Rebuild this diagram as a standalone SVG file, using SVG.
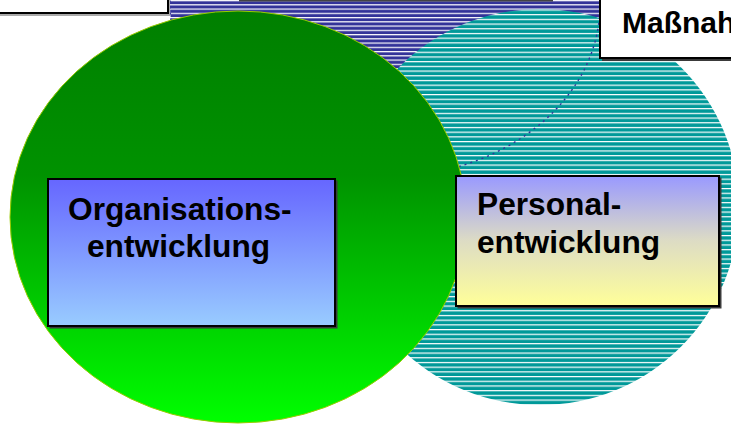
<svg xmlns="http://www.w3.org/2000/svg" width="731" height="424" viewBox="0 0 731 424">
  <style>
    .lbl { font-family: "Liberation Sans", Arial, sans-serif; font-weight: bold; fill: #000; }
    .box { stroke: #000; stroke-width: 2; }
    .shadow { fill: #3a3a3a; }
  </style>
  <defs>
    <pattern id="hatchNavy" patternUnits="userSpaceOnUse" width="20" height="4.25">
      <rect width="20" height="4.25" fill="#333399"/>
      <rect y="0" width="20" height="1.2" fill="#ffffff"/>
    </pattern>
    <pattern id="hatchTeal" patternUnits="userSpaceOnUse" width="20" height="4.7">
      <rect width="20" height="4.7" fill="#009999"/>
      <rect y="0" width="20" height="1.2" fill="#ffffff"/>
    </pattern>
    <linearGradient id="gGreen" x1="0" y1="0" x2="0" y2="1">
      <stop offset="0" stop-color="#007f00"/>
      <stop offset="0.4" stop-color="#009200"/>
      <stop offset="1" stop-color="#00ff00"/>
    </linearGradient>
    <linearGradient id="gOrg" x1="0" y1="0" x2="0" y2="1">
      <stop offset="0" stop-color="#6666ff"/>
      <stop offset="1" stop-color="#99ccff"/>
    </linearGradient>
    <linearGradient id="gPers" x1="0" y1="0" x2="0" y2="1">
      <stop offset="0" stop-color="#9999ff"/>
      <stop offset="0.5" stop-color="#dddcc4"/>
      <stop offset="1" stop-color="#ffff99"/>
    </linearGradient>
  </defs>

  <rect width="731" height="424" fill="#ffffff"/>

  <g id="circle-top">
    <ellipse cx="385" cy="5" rx="215" ry="172" fill="url(#hatchNavy)"/>
    <rect x="239" y="-10" width="314" height="11.5" fill="#444444"/>
  </g>

  <g id="circle-personal">
    <ellipse cx="540" cy="207" rx="199" ry="198" fill="url(#hatchTeal)"/>
  </g>

  <g id="outline-top">
    <ellipse cx="385" cy="5" rx="215" ry="172" fill="none" stroke="#333399" stroke-width="1.4" stroke-dasharray="2 4"/>
  </g>

  <g id="circle-org">
    <ellipse cx="238" cy="217" rx="228" ry="206" fill="url(#gGreen)" stroke="#99cc00" stroke-width="1"/>
  </g>

  <g id="box-topleft">
    <rect x="-4" y="-28" width="174" height="44" style="fill:#aaaaaa"/>
    <rect x="-6" y="-30" width="174" height="43" fill="#ffffff" class="box"/>
  </g>

  <g id="box-massnahmen">
    <rect x="602" y="-28" width="140" height="89" class="shadow"/>
    <rect x="600" y="-30" width="140" height="88" fill="#ffffff" class="box"/>
    <text class="lbl" x="622" y="33" font-size="30">Maßnah</text>
  </g>

  <g id="box-org">
    <rect x="49.5" y="180.5" width="288" height="148" class="shadow"/>
    <rect x="48" y="179" width="287" height="147" fill="url(#gOrg)" class="box"/>
    <text class="lbl" x="68" y="220" font-size="31.7">Organisations-</text>
    <text class="lbl" x="87" y="257" font-size="31.7">entwicklung</text>
  </g>

  <g id="box-personal">
    <rect x="457.5" y="177.5" width="264" height="131" class="shadow"/>
    <rect x="456" y="176" width="263" height="130" fill="url(#gPers)" class="box"/>
    <text class="lbl" x="477" y="215" font-size="31.7">Personal-</text>
    <text class="lbl" x="477" y="253" font-size="31.7">entwicklung</text>
  </g>

  <g id="connectors"></g>
</svg>
